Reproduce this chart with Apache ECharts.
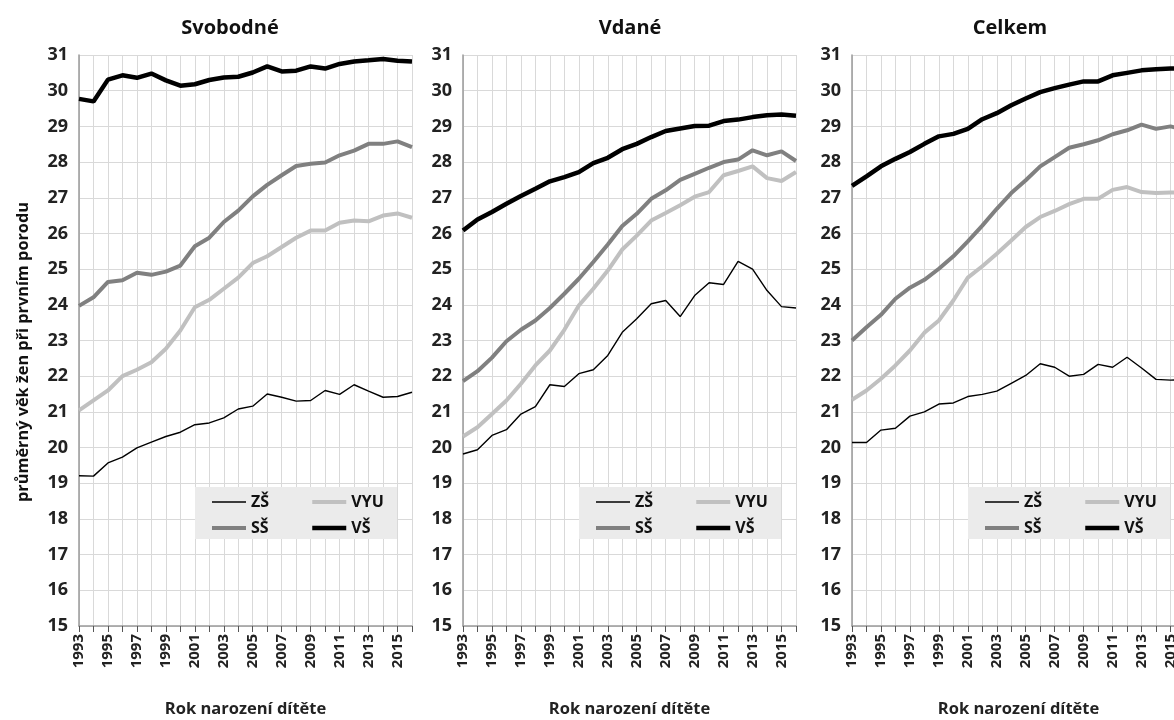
<!DOCTYPE html>
<html>
<head>
<meta charset="utf-8">
<script src="https://cdn.jsdelivr.net/npm/echarts@6/dist/echarts.min.js"></script>
<style>
  html, body { margin: 0; background: #fff; }
  #chart { width: 1174px; height: 720px; }
</style>
</head>
<body>
<div id="chart"></div>
<script>
var years = ['1993', '1994', '1995', '1996', '1997', '1998', '1999', '2000', '2001', '2002', '2003', '2004',
             '2005', '2006', '2007', '2008', '2009', '2010', '2011', '2012', '2013', '2014', '2015', '2016'];

// Svobodné
var svobodneZS  = [19.21, 19.2, 19.57, 19.73, 19.99, 20.15, 20.31, 20.43, 20.64, 20.69, 20.83, 21.08, 21.16, 21.5, 21.41, 21.3, 21.32, 21.6, 21.49, 21.76, 21.58, 21.41, 21.43, 21.55];
var svobodneVYU = [21.04, 21.32, 21.6, 22.0, 22.18, 22.39, 22.77, 23.28, 23.93, 24.14, 24.45, 24.76, 25.17, 25.36, 25.62, 25.88, 26.08, 26.08, 26.3, 26.36, 26.34, 26.5, 26.56, 26.44];
var svobodneSS  = [23.97, 24.21, 24.64, 24.69, 24.9, 24.84, 24.93, 25.1, 25.64, 25.88, 26.32, 26.64, 27.04, 27.36, 27.63, 27.89, 27.95, 27.99, 28.19, 28.32, 28.51, 28.51, 28.58, 28.42];
var svobodneVS  = [29.77, 29.7, 30.31, 30.43, 30.36, 30.48, 30.29, 30.14, 30.18, 30.3, 30.37, 30.39, 30.51, 30.68, 30.54, 30.56, 30.68, 30.62, 30.75, 30.82, 30.85, 30.89, 30.84, 30.82];

// Vdané
var vdaneZS  = [19.82, 19.94, 20.34, 20.5, 20.94, 21.15, 21.76, 21.71, 22.07, 22.18, 22.58, 23.23, 23.61, 24.03, 24.12, 23.67, 24.26, 24.62, 24.57, 25.22, 25.0, 24.4, 23.95, 23.91];
var vdaneVYU = [20.31, 20.57, 20.94, 21.32, 21.79, 22.3, 22.72, 23.3, 23.98, 24.45, 24.96, 25.55, 25.94, 26.36, 26.57, 26.79, 27.03, 27.16, 27.63, 27.75, 27.88, 27.55, 27.47, 27.72];
var vdaneSS  = [21.86, 22.14, 22.52, 22.98, 23.3, 23.56, 23.91, 24.31, 24.73, 25.2, 25.69, 26.21, 26.55, 26.97, 27.21, 27.5, 27.67, 27.84, 28.0, 28.07, 28.33, 28.19, 28.3, 28.03];
var vdaneVS  = [26.08, 26.39, 26.6, 26.83, 27.05, 27.25, 27.46, 27.58, 27.72, 27.97, 28.12, 28.36, 28.51, 28.7, 28.87, 28.94, 29.01, 29.02, 29.15, 29.19, 29.26, 29.31, 29.33, 29.3];

// Celkem
var celkemZS  = [20.14, 20.14, 20.49, 20.54, 20.88, 21.0, 21.22, 21.25, 21.43, 21.49, 21.58, 21.8, 22.02, 22.35, 22.25, 22.0, 22.05, 22.33, 22.25, 22.53, 22.23, 21.91, 21.89, 21.9];
var celkemVYU = [21.34, 21.6, 21.93, 22.3, 22.72, 23.22, 23.56, 24.12, 24.76, 25.08, 25.43, 25.8, 26.18, 26.46, 26.63, 26.82, 26.97, 26.97, 27.22, 27.3, 27.16, 27.13, 27.15, 27.15];
var celkemSS  = [23.0, 23.37, 23.72, 24.17, 24.48, 24.7, 25.01, 25.36, 25.78, 26.22, 26.69, 27.13, 27.49, 27.88, 28.14, 28.4, 28.5, 28.61, 28.78, 28.89, 29.05, 28.93, 29.0, 28.9];
var celkemVS  = [27.33, 27.6, 27.88, 28.09, 28.28, 28.51, 28.72, 28.79, 28.93, 29.2, 29.37, 29.59, 29.78, 29.96, 30.07, 30.17, 30.26, 30.26, 30.43, 30.5, 30.57, 30.6, 30.62, 30.63];

var seriesNames = ['ZŠ', 'VYU', 'SŠ', 'VŠ'];
var panels = [
    { title: 'Svobodné', titleX: 230,  left: 79,  data: [svobodneZS, svobodneVYU, svobodneSS, svobodneVS] },
    { title: 'Vdané',    titleX: 630,  left: 463, data: [vdaneZS, vdaneVYU, vdaneSS, vdaneVS] },
    { title: 'Celkem',   titleX: 1010, left: 852, data: [celkemZS, celkemVYU, celkemSS, celkemVS] }
];

var font = 'Open Sans';
var lineStyles = {
    'ZŠ':  { color: '#000000', width: 1.4 },
    'VYU': { color: '#c0c0c0', width: 4 },
    'SŠ':  { color: '#808080', width: 4 },
    'VŠ':  { color: '#000000', width: 4.5 }
};
var gridTop = 55, gridHeight = 571, gridWidth = 333;

var chartDom = document.getElementById('chart');
var myChart = echarts.init(chartDom);

var grids = [], xAxes = [], yAxes = [], series = [], legends = [], graphics = [];

panels.forEach(function (p, i) {
    grids.push({ left: p.left, top: gridTop, width: gridWidth, height: gridHeight, outerBoundsMode: 'none', containLabel: false });
    xAxes.push({
        gridIndex: i,
        type: 'category',
        data: years,
        boundaryGap: false,
        axisLine: { lineStyle: { color: '#9a9a9a', width: 1.5 } },
        axisTick: { show: true, interval: 0, length: 6, lineStyle: { color: '#555' } },
        axisLabel: { interval: 1, rotate: 90, margin: 8, fontSize: 15, fontWeight: 'bold', color: '#222', fontFamily: font },
        splitLine: { show: true, interval: 0, lineStyle: { color: '#d9d9d9' } },
        name: 'Rok narození dítěte',
        nameLocation: 'middle',
        nameGap: 75,
        nameTextStyle: { fontSize: 16.5, fontWeight: 'bold', color: '#222', fontFamily: font }
    });
    yAxes.push({
        gridIndex: i,
        type: 'value',
        min: 15,
        max: 31,
        interval: 1,
        axisLine: { show: true, lineStyle: { color: '#9a9a9a', width: 1.5 } },
        axisTick: { show: false },
        axisLabel: { margin: 11, fontSize: 18, fontWeight: 'bold', color: '#222', fontFamily: font },
        splitLine: { show: true, lineStyle: { color: '#d9d9d9' } }
    });
    seriesNames.forEach(function (name, k) {
        series.push({
            name: name,
            type: 'line',
            xAxisIndex: i,
            yAxisIndex: i,
            data: p.data[k],
            symbol: 'none',
            lineStyle: lineStyles[name],
            itemStyle: { color: lineStyles[name].color }
        });
    });

    // legend box: two columns
    var boxLeft = p.left + 116;
    graphics.push({
        type: 'rect', z: 3,
        shape: { x: boxLeft, y: 487, width: 202, height: 52 },
        style: { fill: '#ebebeb' }
    });
    [['ZŠ', 'SŠ'], ['VYU', 'VŠ']].forEach(function (col, c) {
        legends.push({
            orient: 'vertical',
            left: boxLeft + 15 + c * 100,
            top: 494,
            padding: 0,
            itemWidth: 34,
            itemHeight: 14,
            itemGap: 10,
            selectedMode: false,
            textStyle: { fontSize: 16, fontWeight: 'bold', color: '#111', fontFamily: font },
            data: col.map(function (n) {
                return {
                    name: n,
                    itemStyle: { opacity: 0 },
                    lineStyle: { width: lineStyles[n].width, color: lineStyles[n].color }
                };
            })
        });
    });

    graphics.push({
        type: 'text',
        x: p.titleX,
        y: 28,
        style: { text: p.title, font: 'bold 20px "' + font + '"', fill: '#111', align: 'center', verticalAlign: 'middle' }
    });
});

graphics.push({
    type: 'text',
    x: 23,
    y: 352,
    rotation: Math.PI / 2,
    style: { text: 'průměrný věk žen při prvním porodu', font: 'bold 16.3px "' + font + '"', fill: '#111', align: 'center', verticalAlign: 'middle' }
});

var option = {
    animation: false,
    backgroundColor: '#fff',
    grid: grids,
    xAxis: xAxes,
    yAxis: yAxes,
    legend: legends,
    series: series,
    graphic: graphics
};

option && myChart.setOption(option);
</script>
</body>
</html>
